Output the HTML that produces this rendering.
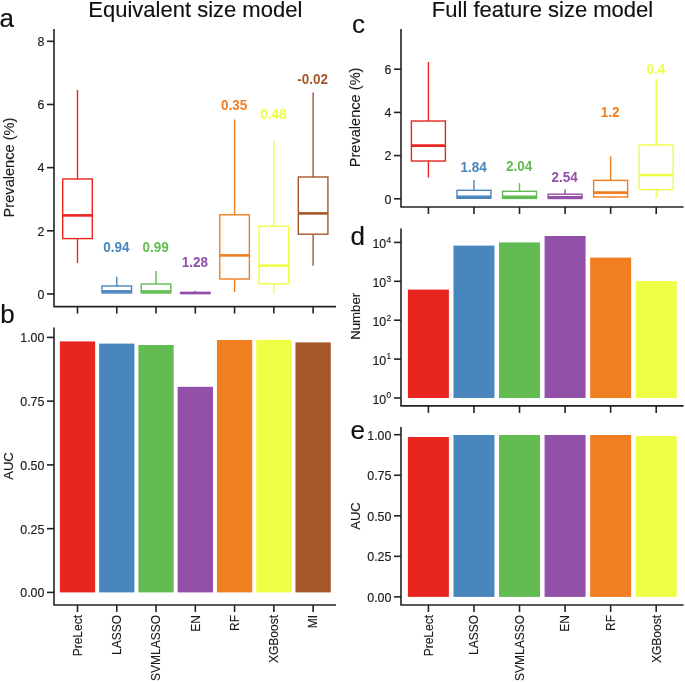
<!DOCTYPE html>
<html><head><meta charset="utf-8"><style>
html,body{margin:0;padding:0;background:#fff;}
body{width:685px;height:682px;overflow:hidden;}
svg{display:block;font-family:"Liberation Sans", sans-serif;will-change:transform;}
</style></head><body>
<svg width="685" height="682" viewBox="0 0 685 682">
<rect width="685" height="682" fill="#fff"/>
<line x1="54.00" y1="29.00" x2="54.00" y2="306.60" stroke="#222" stroke-width="1.6"/>
<line x1="47.00" y1="293.95" x2="54.00" y2="293.95" stroke="#222" stroke-width="1.6"/>
<text x="44.40" y="298.81" font-size="12.4" text-anchor="end" fill="#1a1a1a" font-weight="normal" stroke="#1a1a1a" stroke-width="0.15">0</text>
<line x1="47.00" y1="230.79" x2="54.00" y2="230.79" stroke="#222" stroke-width="1.6"/>
<text x="44.40" y="235.65" font-size="12.4" text-anchor="end" fill="#1a1a1a" font-weight="normal" stroke="#1a1a1a" stroke-width="0.15">2</text>
<line x1="47.00" y1="167.63" x2="54.00" y2="167.63" stroke="#222" stroke-width="1.6"/>
<text x="44.40" y="172.49" font-size="12.4" text-anchor="end" fill="#1a1a1a" font-weight="normal" stroke="#1a1a1a" stroke-width="0.15">4</text>
<line x1="47.00" y1="104.47" x2="54.00" y2="104.47" stroke="#222" stroke-width="1.6"/>
<text x="44.40" y="109.33" font-size="12.4" text-anchor="end" fill="#1a1a1a" font-weight="normal" stroke="#1a1a1a" stroke-width="0.15">6</text>
<line x1="47.00" y1="41.31" x2="54.00" y2="41.31" stroke="#222" stroke-width="1.6"/>
<text x="44.40" y="46.17" font-size="12.4" text-anchor="end" fill="#1a1a1a" font-weight="normal" stroke="#1a1a1a" stroke-width="0.15">8</text>
<line x1="53.35" y1="306.60" x2="336.00" y2="306.60" stroke="#222" stroke-width="1.6"/>
<line x1="77.50" y1="306.60" x2="77.50" y2="313.60" stroke="#222" stroke-width="1.6"/>
<line x1="116.77" y1="306.60" x2="116.77" y2="313.60" stroke="#222" stroke-width="1.6"/>
<line x1="156.04" y1="306.60" x2="156.04" y2="313.60" stroke="#222" stroke-width="1.6"/>
<line x1="195.31" y1="306.60" x2="195.31" y2="313.60" stroke="#222" stroke-width="1.6"/>
<line x1="234.58" y1="306.60" x2="234.58" y2="313.60" stroke="#222" stroke-width="1.6"/>
<line x1="273.85" y1="306.60" x2="273.85" y2="313.60" stroke="#222" stroke-width="1.6"/>
<line x1="313.12" y1="306.60" x2="313.12" y2="313.60" stroke="#222" stroke-width="1.6"/>
<line x1="77.50" y1="90.00" x2="77.50" y2="179.00" stroke="#E8251F" stroke-width="1.4"/>
<line x1="77.50" y1="238.60" x2="77.50" y2="263.00" stroke="#E8251F" stroke-width="1.4"/>
<rect x="62.70" y="179.00" width="29.60" height="59.60" fill="none" stroke="#E8251F" stroke-width="1.4"/>
<line x1="62.70" y1="215.40" x2="92.30" y2="215.40" stroke="#E8251F" stroke-width="2.6"/>
<line x1="116.77" y1="276.70" x2="116.77" y2="286.00" stroke="#4A86BE" stroke-width="1.4"/>
<rect x="101.97" y="286.00" width="29.60" height="7.00" fill="none" stroke="#4A86BE" stroke-width="1.4"/>
<line x1="101.97" y1="291.40" x2="131.57" y2="291.40" stroke="#4A86BE" stroke-width="2.6"/>
<line x1="156.04" y1="271.00" x2="156.04" y2="284.00" stroke="#62BC51" stroke-width="1.4"/>
<rect x="141.24" y="284.00" width="29.60" height="9.00" fill="none" stroke="#62BC51" stroke-width="1.4"/>
<line x1="141.24" y1="291.50" x2="170.84" y2="291.50" stroke="#62BC51" stroke-width="2.6"/>
<line x1="195.31" y1="290.80" x2="195.31" y2="292.60" stroke="#9350A8" stroke-width="1.4"/>
<rect x="180.51" y="292.60" width="29.60" height="0.80" fill="none" stroke="#9350A8" stroke-width="1.4"/>
<line x1="180.51" y1="293.00" x2="210.11" y2="293.00" stroke="#9350A8" stroke-width="2.6"/>
<line x1="234.58" y1="119.50" x2="234.58" y2="214.80" stroke="#F07F22" stroke-width="1.4"/>
<line x1="234.58" y1="279.00" x2="234.58" y2="292.00" stroke="#F07F22" stroke-width="1.4"/>
<rect x="219.78" y="214.80" width="29.60" height="64.20" fill="none" stroke="#F07F22" stroke-width="1.4"/>
<line x1="219.78" y1="255.40" x2="249.38" y2="255.40" stroke="#F07F22" stroke-width="2.6"/>
<line x1="273.85" y1="141.00" x2="273.85" y2="226.20" stroke="#EEFF45" stroke-width="1.4"/>
<line x1="273.85" y1="283.80" x2="273.85" y2="293.50" stroke="#EEFF45" stroke-width="1.4"/>
<rect x="259.05" y="226.20" width="29.60" height="57.60" fill="none" stroke="#EEFF45" stroke-width="1.4"/>
<line x1="259.05" y1="265.60" x2="288.65" y2="265.60" stroke="#EEFF45" stroke-width="2.6"/>
<line x1="313.12" y1="92.40" x2="313.12" y2="177.00" stroke="#A4572B" stroke-width="1.4"/>
<line x1="313.12" y1="234.20" x2="313.12" y2="265.80" stroke="#A4572B" stroke-width="1.4"/>
<rect x="298.32" y="177.00" width="29.60" height="57.20" fill="none" stroke="#A4572B" stroke-width="1.4"/>
<line x1="298.32" y1="213.40" x2="327.92" y2="213.40" stroke="#A4572B" stroke-width="2.6"/>
<text x="0.00" y="0.00" font-size="14.5" text-anchor="middle" fill="#4A86BE" font-weight="bold" transform="translate(116.37 252.40) scale(0.93 1)">0.94</text>
<text x="0.00" y="0.00" font-size="14.5" text-anchor="middle" fill="#62BC51" font-weight="bold" transform="translate(155.64 252.00) scale(0.93 1)">0.99</text>
<text x="0.00" y="0.00" font-size="14.5" text-anchor="middle" fill="#9350A8" font-weight="bold" transform="translate(194.91 267.00) scale(0.93 1)">1.28</text>
<text x="0.00" y="0.00" font-size="14.5" text-anchor="middle" fill="#F07F22" font-weight="bold" transform="translate(234.18 109.60) scale(0.93 1)">0.35</text>
<text x="0.00" y="0.00" font-size="14.5" text-anchor="middle" fill="#EEFF45" font-weight="bold" transform="translate(273.45 119.20) scale(0.93 1)">0.48</text>
<text x="0.00" y="0.00" font-size="14.5" text-anchor="middle" fill="#A4572B" font-weight="bold" transform="translate(312.72 84.40) scale(0.93 1)">-0.02</text>
<text x="13.60" y="167.50" font-size="14.6" text-anchor="middle" fill="#1a1a1a" font-weight="normal" stroke="#1a1a1a" stroke-width="0.15" transform="rotate(-90 13.60 167.50)">Prevalence (%)</text>
<text x="195.30" y="17.00" font-size="22.0" text-anchor="middle" fill="#111" font-weight="normal" stroke="#111" stroke-width="0.15">Equivalent size model</text>
<text x="-0.50" y="26.60" font-size="26" text-anchor="start" fill="#111" font-weight="normal" stroke="#111" stroke-width="0.15">a</text>
<line x1="54.00" y1="327.60" x2="54.00" y2="605.00" stroke="#222" stroke-width="1.6"/>
<line x1="47.00" y1="592.40" x2="54.00" y2="592.40" stroke="#222" stroke-width="1.6"/>
<text x="44.40" y="597.26" font-size="12.4" text-anchor="end" fill="#1a1a1a" font-weight="normal" stroke="#1a1a1a" stroke-width="0.15">0.00</text>
<line x1="47.00" y1="528.65" x2="54.00" y2="528.65" stroke="#222" stroke-width="1.6"/>
<text x="44.40" y="533.51" font-size="12.4" text-anchor="end" fill="#1a1a1a" font-weight="normal" stroke="#1a1a1a" stroke-width="0.15">0.25</text>
<line x1="47.00" y1="464.90" x2="54.00" y2="464.90" stroke="#222" stroke-width="1.6"/>
<text x="44.40" y="469.76" font-size="12.4" text-anchor="end" fill="#1a1a1a" font-weight="normal" stroke="#1a1a1a" stroke-width="0.15">0.50</text>
<line x1="47.00" y1="401.15" x2="54.00" y2="401.15" stroke="#222" stroke-width="1.6"/>
<text x="44.40" y="406.01" font-size="12.4" text-anchor="end" fill="#1a1a1a" font-weight="normal" stroke="#1a1a1a" stroke-width="0.15">0.75</text>
<line x1="47.00" y1="337.40" x2="54.00" y2="337.40" stroke="#222" stroke-width="1.6"/>
<text x="44.40" y="342.26" font-size="12.4" text-anchor="end" fill="#1a1a1a" font-weight="normal" stroke="#1a1a1a" stroke-width="0.15">1.00</text>
<line x1="53.35" y1="605.00" x2="336.00" y2="605.00" stroke="#222" stroke-width="1.6"/>
<line x1="77.50" y1="605.00" x2="77.50" y2="612.00" stroke="#222" stroke-width="1.6"/>
<line x1="116.77" y1="605.00" x2="116.77" y2="612.00" stroke="#222" stroke-width="1.6"/>
<line x1="156.04" y1="605.00" x2="156.04" y2="612.00" stroke="#222" stroke-width="1.6"/>
<line x1="195.31" y1="605.00" x2="195.31" y2="612.00" stroke="#222" stroke-width="1.6"/>
<line x1="234.58" y1="605.00" x2="234.58" y2="612.00" stroke="#222" stroke-width="1.6"/>
<line x1="273.85" y1="605.00" x2="273.85" y2="612.00" stroke="#222" stroke-width="1.6"/>
<line x1="313.12" y1="605.00" x2="313.12" y2="612.00" stroke="#222" stroke-width="1.6"/>
<rect x="59.85" y="341.40" width="35.3" height="251.00" fill="#E8251F"/>
<rect x="99.12" y="343.60" width="35.3" height="248.80" fill="#4A86BE"/>
<rect x="138.39" y="345.00" width="35.3" height="247.40" fill="#62BC51"/>
<rect x="177.66" y="386.80" width="35.3" height="205.60" fill="#9350A8"/>
<rect x="216.93" y="340.00" width="35.3" height="252.40" fill="#F07F22"/>
<rect x="256.20" y="339.80" width="35.3" height="252.60" fill="#EEFF45"/>
<rect x="295.47" y="342.40" width="35.3" height="250.00" fill="#A4572B"/>
<text x="81.80" y="615.00" font-size="12" text-anchor="end" fill="#1a1a1a" font-weight="normal" stroke="#1a1a1a" stroke-width="0.15" transform="rotate(-90 81.80 615.00)">PreLect</text>
<text x="121.07" y="615.00" font-size="12" text-anchor="end" fill="#1a1a1a" font-weight="normal" stroke="#1a1a1a" stroke-width="0.15" transform="rotate(-90 121.07 615.00)">LASSO</text>
<text x="160.34" y="615.00" font-size="12" text-anchor="end" fill="#1a1a1a" font-weight="normal" stroke="#1a1a1a" stroke-width="0.15" transform="rotate(-90 160.34 615.00)">SVMLASSO</text>
<text x="199.61" y="615.00" font-size="12" text-anchor="end" fill="#1a1a1a" font-weight="normal" stroke="#1a1a1a" stroke-width="0.15" transform="rotate(-90 199.61 615.00)">EN</text>
<text x="238.88" y="615.00" font-size="12" text-anchor="end" fill="#1a1a1a" font-weight="normal" stroke="#1a1a1a" stroke-width="0.15" transform="rotate(-90 238.88 615.00)">RF</text>
<text x="278.15" y="615.00" font-size="12" text-anchor="end" fill="#1a1a1a" font-weight="normal" stroke="#1a1a1a" stroke-width="0.15" transform="rotate(-90 278.15 615.00)">XGBoost</text>
<text x="317.42" y="615.00" font-size="12" text-anchor="end" fill="#1a1a1a" font-weight="normal" stroke="#1a1a1a" stroke-width="0.15" transform="rotate(-90 317.42 615.00)">MI</text>
<text x="13.30" y="466.00" font-size="13" text-anchor="middle" fill="#1a1a1a" font-weight="normal" stroke="#1a1a1a" stroke-width="0.15" transform="rotate(-90 13.30 466.00)">AUC</text>
<text x="0.30" y="323.40" font-size="26" text-anchor="start" fill="#111" font-weight="normal" stroke="#111" stroke-width="0.15">b</text>
<line x1="401.00" y1="29.00" x2="401.00" y2="207.00" stroke="#222" stroke-width="1.6"/>
<line x1="394.00" y1="198.80" x2="401.00" y2="198.80" stroke="#222" stroke-width="1.6"/>
<text x="391.40" y="203.66" font-size="12.4" text-anchor="end" fill="#1a1a1a" font-weight="normal" stroke="#1a1a1a" stroke-width="0.15">0</text>
<line x1="394.00" y1="155.60" x2="401.00" y2="155.60" stroke="#222" stroke-width="1.6"/>
<text x="391.40" y="160.46" font-size="12.4" text-anchor="end" fill="#1a1a1a" font-weight="normal" stroke="#1a1a1a" stroke-width="0.15">2</text>
<line x1="394.00" y1="112.40" x2="401.00" y2="112.40" stroke="#222" stroke-width="1.6"/>
<text x="391.40" y="117.26" font-size="12.4" text-anchor="end" fill="#1a1a1a" font-weight="normal" stroke="#1a1a1a" stroke-width="0.15">4</text>
<line x1="394.00" y1="69.20" x2="401.00" y2="69.20" stroke="#222" stroke-width="1.6"/>
<text x="391.40" y="74.06" font-size="12.4" text-anchor="end" fill="#1a1a1a" font-weight="normal" stroke="#1a1a1a" stroke-width="0.15">6</text>
<line x1="400.35" y1="207.00" x2="683.60" y2="207.00" stroke="#222" stroke-width="1.6"/>
<line x1="428.40" y1="207.00" x2="428.40" y2="214.00" stroke="#222" stroke-width="1.6"/>
<line x1="473.96" y1="207.00" x2="473.96" y2="214.00" stroke="#222" stroke-width="1.6"/>
<line x1="519.52" y1="207.00" x2="519.52" y2="214.00" stroke="#222" stroke-width="1.6"/>
<line x1="565.08" y1="207.00" x2="565.08" y2="214.00" stroke="#222" stroke-width="1.6"/>
<line x1="610.64" y1="207.00" x2="610.64" y2="214.00" stroke="#222" stroke-width="1.6"/>
<line x1="656.20" y1="207.00" x2="656.20" y2="214.00" stroke="#222" stroke-width="1.6"/>
<line x1="428.40" y1="62.00" x2="428.40" y2="121.00" stroke="#E8251F" stroke-width="1.4"/>
<line x1="428.40" y1="161.00" x2="428.40" y2="177.60" stroke="#E8251F" stroke-width="1.4"/>
<rect x="411.40" y="121.00" width="34.00" height="40.00" fill="none" stroke="#E8251F" stroke-width="1.4"/>
<line x1="411.40" y1="145.60" x2="445.40" y2="145.60" stroke="#E8251F" stroke-width="2.6"/>
<line x1="473.96" y1="179.90" x2="473.96" y2="190.30" stroke="#4A86BE" stroke-width="1.4"/>
<rect x="456.96" y="190.30" width="34.00" height="8.00" fill="none" stroke="#4A86BE" stroke-width="1.4"/>
<line x1="456.96" y1="196.90" x2="490.96" y2="196.90" stroke="#4A86BE" stroke-width="2.6"/>
<line x1="519.52" y1="183.10" x2="519.52" y2="191.30" stroke="#62BC51" stroke-width="1.4"/>
<rect x="502.52" y="191.30" width="34.00" height="7.10" fill="none" stroke="#62BC51" stroke-width="1.4"/>
<line x1="502.52" y1="196.90" x2="536.52" y2="196.90" stroke="#62BC51" stroke-width="2.6"/>
<line x1="565.08" y1="189.30" x2="565.08" y2="194.20" stroke="#9350A8" stroke-width="1.4"/>
<rect x="548.08" y="194.20" width="34.00" height="4.30" fill="none" stroke="#9350A8" stroke-width="1.4"/>
<line x1="548.08" y1="197.40" x2="582.08" y2="197.40" stroke="#9350A8" stroke-width="2.6"/>
<line x1="610.64" y1="156.40" x2="610.64" y2="180.40" stroke="#F07F22" stroke-width="1.4"/>
<line x1="610.64" y1="197.00" x2="610.64" y2="198.00" stroke="#F07F22" stroke-width="1.4"/>
<rect x="593.64" y="180.40" width="34.00" height="16.60" fill="none" stroke="#F07F22" stroke-width="1.4"/>
<line x1="593.64" y1="192.60" x2="627.64" y2="192.60" stroke="#F07F22" stroke-width="2.6"/>
<line x1="656.20" y1="79.00" x2="656.20" y2="145.00" stroke="#EEFF45" stroke-width="1.4"/>
<line x1="656.20" y1="189.60" x2="656.20" y2="198.00" stroke="#EEFF45" stroke-width="1.4"/>
<rect x="639.20" y="145.00" width="34.00" height="44.60" fill="none" stroke="#EEFF45" stroke-width="1.4"/>
<line x1="639.20" y1="175.00" x2="673.20" y2="175.00" stroke="#EEFF45" stroke-width="2.6"/>
<text x="0.00" y="0.00" font-size="14.5" text-anchor="middle" fill="#4A86BE" font-weight="bold" transform="translate(473.56 171.60) scale(0.93 1)">1.84</text>
<text x="0.00" y="0.00" font-size="14.5" text-anchor="middle" fill="#62BC51" font-weight="bold" transform="translate(519.12 171.40) scale(0.93 1)">2.04</text>
<text x="0.00" y="0.00" font-size="14.5" text-anchor="middle" fill="#9350A8" font-weight="bold" transform="translate(564.68 182.40) scale(0.93 1)">2.54</text>
<text x="0.00" y="0.00" font-size="14.5" text-anchor="middle" fill="#F07F22" font-weight="bold" transform="translate(610.24 117.40) scale(0.93 1)">1.2</text>
<text x="0.00" y="0.00" font-size="14.5" text-anchor="middle" fill="#EEFF45" font-weight="bold" transform="translate(655.80 74.40) scale(0.93 1)">0.4</text>
<text x="360.10" y="117.40" font-size="14.6" text-anchor="middle" fill="#1a1a1a" font-weight="normal" stroke="#1a1a1a" stroke-width="0.15" transform="rotate(-90 360.10 117.40)">Prevalence (%)</text>
<text x="542.50" y="17.00" font-size="22.0" text-anchor="middle" fill="#111" font-weight="normal" stroke="#111" stroke-width="0.15">Full feature size model</text>
<text x="352.00" y="32.60" font-size="26" text-anchor="start" fill="#111" font-weight="normal" stroke="#111" stroke-width="0.15">c</text>
<line x1="401.00" y1="228.40" x2="401.00" y2="405.90" stroke="#222" stroke-width="1.6"/>
<line x1="394.00" y1="398.00" x2="401.00" y2="398.00" stroke="#222" stroke-width="1.6"/>
<text x="386.20" y="404.00" font-size="12.4" text-anchor="end" fill="#1a1a1a" stroke="#1a1a1a" stroke-width="0.15">10</text>
<text x="386.40" y="398.30" font-size="8.3" text-anchor="start" fill="#1a1a1a" stroke="#1a1a1a" stroke-width="0.15">0</text>
<line x1="394.00" y1="359.10" x2="401.00" y2="359.10" stroke="#222" stroke-width="1.6"/>
<text x="386.20" y="365.10" font-size="12.4" text-anchor="end" fill="#1a1a1a" stroke="#1a1a1a" stroke-width="0.15">10</text>
<text x="386.40" y="359.40" font-size="8.3" text-anchor="start" fill="#1a1a1a" stroke="#1a1a1a" stroke-width="0.15">1</text>
<line x1="394.00" y1="320.20" x2="401.00" y2="320.20" stroke="#222" stroke-width="1.6"/>
<text x="386.20" y="326.20" font-size="12.4" text-anchor="end" fill="#1a1a1a" stroke="#1a1a1a" stroke-width="0.15">10</text>
<text x="386.40" y="320.50" font-size="8.3" text-anchor="start" fill="#1a1a1a" stroke="#1a1a1a" stroke-width="0.15">2</text>
<line x1="394.00" y1="281.30" x2="401.00" y2="281.30" stroke="#222" stroke-width="1.6"/>
<text x="386.20" y="287.30" font-size="12.4" text-anchor="end" fill="#1a1a1a" stroke="#1a1a1a" stroke-width="0.15">10</text>
<text x="386.40" y="281.60" font-size="8.3" text-anchor="start" fill="#1a1a1a" stroke="#1a1a1a" stroke-width="0.15">3</text>
<line x1="394.00" y1="242.40" x2="401.00" y2="242.40" stroke="#222" stroke-width="1.6"/>
<text x="386.20" y="248.40" font-size="12.4" text-anchor="end" fill="#1a1a1a" stroke="#1a1a1a" stroke-width="0.15">10</text>
<text x="386.40" y="242.70" font-size="8.3" text-anchor="start" fill="#1a1a1a" stroke="#1a1a1a" stroke-width="0.15">4</text>
<line x1="400.35" y1="405.90" x2="683.60" y2="405.90" stroke="#222" stroke-width="1.6"/>
<line x1="428.40" y1="405.90" x2="428.40" y2="412.90" stroke="#222" stroke-width="1.6"/>
<line x1="473.96" y1="405.90" x2="473.96" y2="412.90" stroke="#222" stroke-width="1.6"/>
<line x1="519.52" y1="405.90" x2="519.52" y2="412.90" stroke="#222" stroke-width="1.6"/>
<line x1="565.08" y1="405.90" x2="565.08" y2="412.90" stroke="#222" stroke-width="1.6"/>
<line x1="610.64" y1="405.90" x2="610.64" y2="412.90" stroke="#222" stroke-width="1.6"/>
<line x1="656.20" y1="405.90" x2="656.20" y2="412.90" stroke="#222" stroke-width="1.6"/>
<rect x="407.90" y="289.60" width="41" height="108.40" fill="#E8251F"/>
<rect x="453.46" y="245.60" width="41" height="152.40" fill="#4A86BE"/>
<rect x="499.02" y="242.40" width="41" height="155.60" fill="#62BC51"/>
<rect x="544.58" y="236.00" width="41" height="162.00" fill="#9350A8"/>
<rect x="590.14" y="257.60" width="41" height="140.40" fill="#F07F22"/>
<rect x="635.70" y="281.00" width="41" height="117.00" fill="#EEFF45"/>
<text x="360.20" y="316.30" font-size="13.2" text-anchor="middle" fill="#1a1a1a" font-weight="normal" stroke="#1a1a1a" stroke-width="0.15" transform="rotate(-90 360.20 316.30)">Number</text>
<text x="350.50" y="245.20" font-size="26" text-anchor="start" fill="#111" font-weight="normal" stroke="#111" stroke-width="0.15">d</text>
<line x1="401.00" y1="427.00" x2="401.00" y2="605.00" stroke="#222" stroke-width="1.6"/>
<line x1="394.00" y1="596.90" x2="401.00" y2="596.90" stroke="#222" stroke-width="1.6"/>
<text x="391.40" y="601.76" font-size="12.4" text-anchor="end" fill="#1a1a1a" font-weight="normal" stroke="#1a1a1a" stroke-width="0.15">0.00</text>
<line x1="394.00" y1="556.35" x2="401.00" y2="556.35" stroke="#222" stroke-width="1.6"/>
<text x="391.40" y="561.21" font-size="12.4" text-anchor="end" fill="#1a1a1a" font-weight="normal" stroke="#1a1a1a" stroke-width="0.15">0.25</text>
<line x1="394.00" y1="515.80" x2="401.00" y2="515.80" stroke="#222" stroke-width="1.6"/>
<text x="391.40" y="520.66" font-size="12.4" text-anchor="end" fill="#1a1a1a" font-weight="normal" stroke="#1a1a1a" stroke-width="0.15">0.50</text>
<line x1="394.00" y1="475.25" x2="401.00" y2="475.25" stroke="#222" stroke-width="1.6"/>
<text x="391.40" y="480.11" font-size="12.4" text-anchor="end" fill="#1a1a1a" font-weight="normal" stroke="#1a1a1a" stroke-width="0.15">0.75</text>
<line x1="394.00" y1="434.70" x2="401.00" y2="434.70" stroke="#222" stroke-width="1.6"/>
<text x="391.40" y="439.56" font-size="12.4" text-anchor="end" fill="#1a1a1a" font-weight="normal" stroke="#1a1a1a" stroke-width="0.15">1.00</text>
<line x1="400.35" y1="605.00" x2="683.60" y2="605.00" stroke="#222" stroke-width="1.6"/>
<line x1="428.40" y1="605.00" x2="428.40" y2="612.00" stroke="#222" stroke-width="1.6"/>
<line x1="473.96" y1="605.00" x2="473.96" y2="612.00" stroke="#222" stroke-width="1.6"/>
<line x1="519.52" y1="605.00" x2="519.52" y2="612.00" stroke="#222" stroke-width="1.6"/>
<line x1="565.08" y1="605.00" x2="565.08" y2="612.00" stroke="#222" stroke-width="1.6"/>
<line x1="610.64" y1="605.00" x2="610.64" y2="612.00" stroke="#222" stroke-width="1.6"/>
<line x1="656.20" y1="605.00" x2="656.20" y2="612.00" stroke="#222" stroke-width="1.6"/>
<rect x="407.90" y="437.00" width="41" height="159.90" fill="#E8251F"/>
<rect x="453.46" y="435.00" width="41" height="161.90" fill="#4A86BE"/>
<rect x="499.02" y="435.00" width="41" height="161.90" fill="#62BC51"/>
<rect x="544.58" y="435.00" width="41" height="161.90" fill="#9350A8"/>
<rect x="590.14" y="435.00" width="41" height="161.90" fill="#F07F22"/>
<rect x="635.70" y="436.00" width="41" height="160.90" fill="#EEFF45"/>
<text x="432.70" y="615.00" font-size="12" text-anchor="end" fill="#1a1a1a" font-weight="normal" stroke="#1a1a1a" stroke-width="0.15" transform="rotate(-90 432.70 615.00)">PreLect</text>
<text x="478.26" y="615.00" font-size="12" text-anchor="end" fill="#1a1a1a" font-weight="normal" stroke="#1a1a1a" stroke-width="0.15" transform="rotate(-90 478.26 615.00)">LASSO</text>
<text x="523.82" y="615.00" font-size="12" text-anchor="end" fill="#1a1a1a" font-weight="normal" stroke="#1a1a1a" stroke-width="0.15" transform="rotate(-90 523.82 615.00)">SVMLASSO</text>
<text x="569.38" y="615.00" font-size="12" text-anchor="end" fill="#1a1a1a" font-weight="normal" stroke="#1a1a1a" stroke-width="0.15" transform="rotate(-90 569.38 615.00)">EN</text>
<text x="614.94" y="615.00" font-size="12" text-anchor="end" fill="#1a1a1a" font-weight="normal" stroke="#1a1a1a" stroke-width="0.15" transform="rotate(-90 614.94 615.00)">RF</text>
<text x="660.50" y="615.00" font-size="12" text-anchor="end" fill="#1a1a1a" font-weight="normal" stroke="#1a1a1a" stroke-width="0.15" transform="rotate(-90 660.50 615.00)">XGBoost</text>
<text x="360.20" y="516.00" font-size="13" text-anchor="middle" fill="#1a1a1a" font-weight="normal" stroke="#1a1a1a" stroke-width="0.15" transform="rotate(-90 360.20 516.00)">AUC</text>
<text x="350.50" y="439.00" font-size="26" text-anchor="start" fill="#111" font-weight="normal" stroke="#111" stroke-width="0.15">e</text>
</svg>
</body></html>
